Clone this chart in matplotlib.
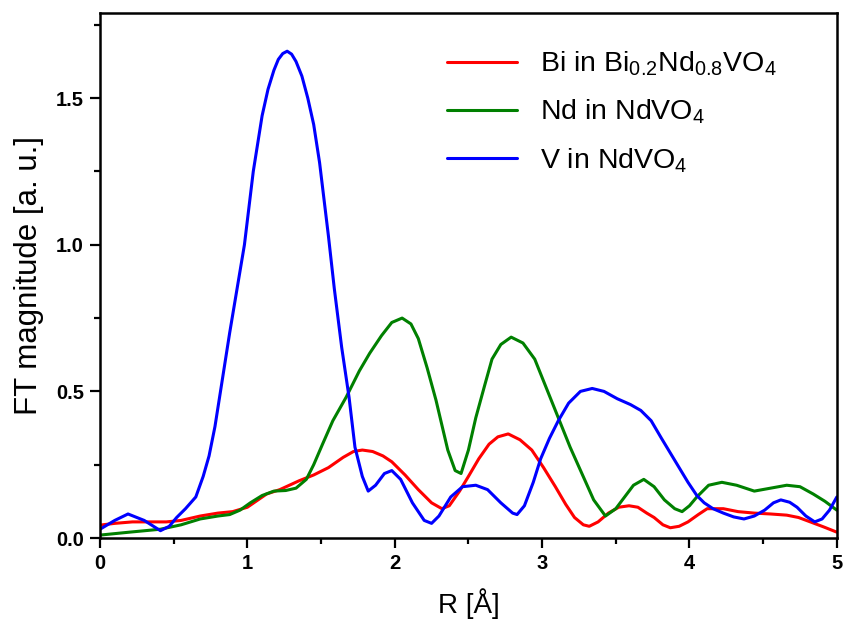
import matplotlib
matplotlib.use("Agg")
import matplotlib.pyplot as plt
from matplotlib.ticker import MultipleLocator, FormatStrFormatter

plt.rcParams['font.family'] = ['Liberation Sans', 'DejaVu Sans']
plt.rcParams['mathtext.fontset'] = 'custom'
plt.rcParams['mathtext.rm'] = 'Liberation Sans'
plt.rcParams['mathtext.it'] = 'Liberation Sans'
plt.rcParams['mathtext.bf'] = 'Liberation Sans:bold'

# V in NdVO4
r_v = [0.00, 0.10, 0.19, 0.30, 0.41, 0.47, 0.52, 0.58, 0.65, 0.70, 0.74, 0.78, 0.83, 0.88,
       0.93, 0.98, 1.04, 1.10, 1.14, 1.18, 1.21, 1.24, 1.27, 1.30, 1.33, 1.37, 1.41, 1.45,
       1.49, 1.55, 1.59, 1.64, 1.69, 1.73, 1.78, 1.82, 1.87, 1.93, 1.98, 2.04, 2.12, 2.20,
       2.25, 2.30, 2.38, 2.46, 2.55, 2.63, 2.72, 2.80, 2.83, 2.88, 2.94, 2.99, 3.05, 3.11,
       3.18, 3.26, 3.34, 3.42, 3.51, 3.60, 3.67, 3.74, 3.81, 3.87, 3.93, 3.99, 4.05, 4.10,
       4.16, 4.23, 4.30, 4.37, 4.44, 4.51, 4.57, 4.62, 4.68, 4.73, 4.79, 4.85, 4.90, 4.95,
       5.00]
v_v = [0.030, 0.060, 0.082, 0.060, 0.025, 0.040, 0.070, 0.100, 0.140, 0.210, 0.280, 0.380,
       0.540, 0.700, 0.850, 1.000, 1.250, 1.440, 1.530, 1.595, 1.632, 1.652, 1.660, 1.650,
       1.625, 1.575, 1.500, 1.410, 1.280, 1.030, 0.850, 0.650, 0.480, 0.310, 0.210, 0.160,
       0.180, 0.220, 0.230, 0.200, 0.120, 0.060, 0.050, 0.075, 0.140, 0.175, 0.180, 0.165,
       0.120, 0.085, 0.080, 0.110, 0.190, 0.270, 0.340, 0.400, 0.460, 0.500, 0.510, 0.500,
       0.475, 0.455, 0.435, 0.400, 0.340, 0.290, 0.240, 0.190, 0.145, 0.120, 0.100, 0.085,
       0.072, 0.065, 0.075, 0.095, 0.120, 0.130, 0.122, 0.105, 0.075, 0.055, 0.065, 0.095,
       0.140]

# Nd in NdVO4
r_nd = [0.00, 0.20, 0.41, 0.55, 0.68, 0.80, 0.88, 0.95, 1.02, 1.10, 1.18, 1.26, 1.33, 1.40,
        1.45, 1.51, 1.58, 1.67, 1.76, 1.83, 1.91, 1.98, 2.05, 2.11, 2.16, 2.22, 2.28, 2.36,
        2.41, 2.45, 2.50, 2.55, 2.61, 2.66, 2.72, 2.79, 2.87, 2.95, 3.03, 3.11, 3.19, 3.27,
        3.35, 3.43, 3.50, 3.56, 3.62, 3.69, 3.76, 3.83, 3.90, 3.95, 4.00, 4.05, 4.13, 4.22,
        4.32, 4.44, 4.55, 4.66, 4.75, 4.84, 4.92, 5.00]
v_nd = [0.010, 0.020, 0.030, 0.045, 0.065, 0.075, 0.080, 0.095, 0.120, 0.145, 0.160, 0.162,
        0.170, 0.200, 0.250, 0.320, 0.400, 0.480, 0.570, 0.630, 0.690, 0.735, 0.750, 0.730,
        0.680, 0.580, 0.470, 0.300, 0.230, 0.220, 0.300, 0.410, 0.520, 0.610, 0.660, 0.685,
        0.665, 0.610, 0.510, 0.410, 0.310, 0.220, 0.130, 0.075, 0.100, 0.140, 0.180, 0.200,
        0.175, 0.130, 0.100, 0.090, 0.110, 0.140, 0.180, 0.190, 0.180, 0.160, 0.170, 0.180,
        0.175, 0.150, 0.125, 0.095]

# Bi in Bi0.2Nd0.8VO4
r_bi = [0.00, 0.10, 0.22, 0.34, 0.45, 0.55, 0.68, 0.80, 0.90, 1.00, 1.13, 1.22, 1.35, 1.45,
        1.55, 1.65, 1.72, 1.78, 1.85, 1.92, 1.98, 2.07, 2.16, 2.25, 2.32, 2.37, 2.44, 2.50,
        2.57, 2.64, 2.70, 2.77, 2.85, 2.93, 3.01, 3.09, 3.16, 3.22, 3.28, 3.32, 3.38, 3.45,
        3.52, 3.59, 3.65, 3.71, 3.76, 3.82, 3.87, 3.93, 3.99, 4.06, 4.12, 4.23, 4.33, 4.44,
        4.55, 4.66, 4.74, 4.82, 4.91, 5.00]
v_bi = [0.044, 0.050, 0.055, 0.055, 0.055, 0.060, 0.075, 0.085, 0.090, 0.105, 0.150, 0.165,
        0.195, 0.215, 0.240, 0.275, 0.295, 0.300, 0.295, 0.280, 0.260, 0.215, 0.165, 0.120,
        0.100, 0.110, 0.160, 0.210, 0.270, 0.320, 0.345, 0.355, 0.335, 0.300, 0.240, 0.175,
        0.115, 0.070, 0.045, 0.040, 0.055, 0.085, 0.105, 0.110, 0.105, 0.085, 0.070, 0.045,
        0.035, 0.040, 0.055, 0.080, 0.100, 0.100, 0.090, 0.085, 0.082, 0.078, 0.070, 0.055,
        0.038, 0.020]

fig = plt.figure(figsize=(8.44, 6.23), dpi=100)
ax = fig.add_axes([0.1185, 0.1364, 0.8730, 0.8426])

lw = 2.2
kw = dict(lw=lw, solid_joinstyle='round', solid_capstyle='round')
ax.plot(r_bi, v_bi, color='#ff0000',
        label=r'Bi in Bi$\mathregular{_{0.2}}$Nd$\mathregular{_{0.8}}$VO$\mathregular{_4}$', **kw)
ax.plot(r_nd, v_nd, color='#008000', label=r'Nd in NdVO$\mathregular{_4}$', **kw)
ax.plot(r_v, v_v, color='#0000ff', label=r'V in NdVO$\mathregular{_4}$', **kw)

ax.set_xlim(0, 5)
ax.set_ylim(0, 1.79)
ax.xaxis.set_major_locator(MultipleLocator(1))
ax.xaxis.set_minor_locator(MultipleLocator(0.5))
ax.yaxis.set_major_locator(MultipleLocator(0.5))
ax.yaxis.set_minor_locator(MultipleLocator(0.25))
ax.yaxis.set_major_formatter(FormatStrFormatter('%.1f'))

for s in ax.spines.values():
    s.set_linewidth(1.8)
ax.tick_params(which='major', direction='out', length=7.5, width=1.6, labelsize=14.5, pad=4)
ax.tick_params(which='minor', direction='out', length=4.5, width=1.6)
ax.tick_params(top=False, right=False, which='both')
for lab in ax.get_xticklabels() + ax.get_yticklabels():
    lab.set_fontweight('bold')

ax.set_xlabel('R [Å]', fontsize=20, labelpad=11)
ax.set_ylabel('FT magnitude [a. u.]', fontsize=22.5, labelpad=9)

leg = ax.legend(loc='upper left', bbox_to_anchor=(0.471, 0.930), frameon=False,
                borderaxespad=0, borderpad=0,
                fontsize=20.5, handlelength=2.45, handletextpad=0.8, labelspacing=0.69)
for l in leg.get_lines():
    l.set_linewidth(2.2)

fig.savefig('out.png', dpi=100)
